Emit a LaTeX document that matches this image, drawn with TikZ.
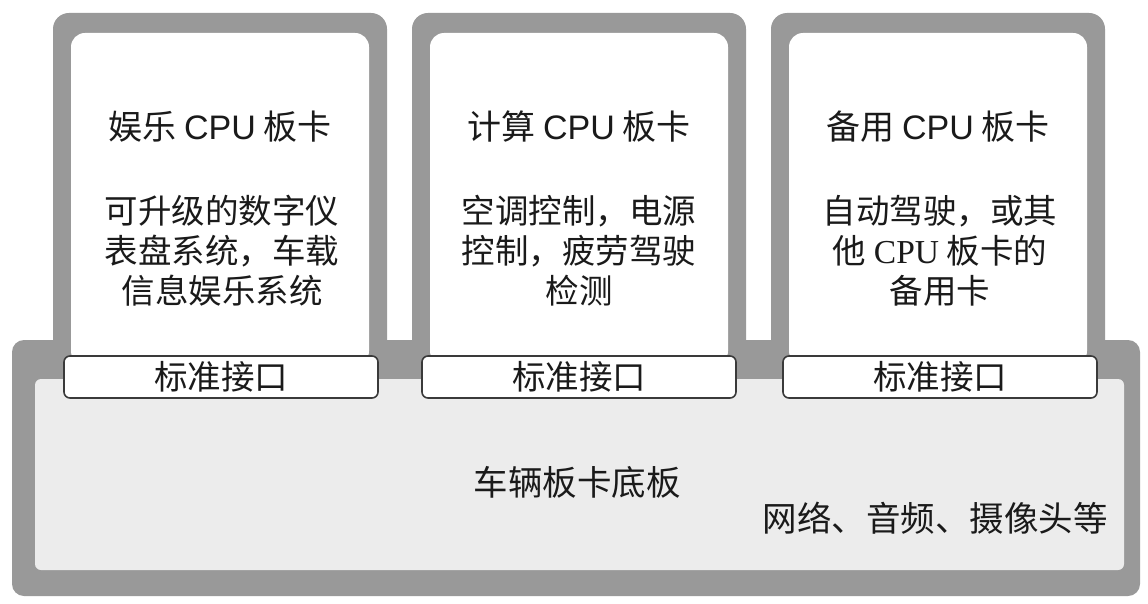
\documentclass[tikz,border=0pt]{standalone}
\usepackage{fontspec}
\setmainfont{Liberation Serif}
\newfontfamily\hei{Noto Sans CJK SC}
\newfontfamily\lsans{Liberation Sans}
\newfontfamily\lserif{Liberation Serif}
\definecolor{bordergray}{HTML}{999999}
\definecolor{baselight}{HTML}{ECECEC}
\definecolor{ink}{HTML}{1A1A1A}
\definecolor{ifline}{HTML}{3A3A3A}
\begin{document}
\begin{tikzpicture}[x=1pt,y=-1pt,
  baseouter/.style={fill=bordergray, draw=none, rounded corners=12pt, minimum width=1128pt, minimum height=256pt, inner sep=0pt},
  baseinner/.style={fill=baselight, draw=none, rounded corners=6pt, minimum width=1089pt, minimum height=191pt, inner sep=0pt},
  cardouter/.style={fill=bordergray, draw=none, rounded corners=16pt, minimum width=334pt, minimum height=372pt, inner sep=0pt},
  cardinner/.style={fill=white, draw=none, rounded corners=14pt, minimum width=298pt, minimum height=332pt, inner sep=0pt},
  ifbox/.style={fill=white, draw=ifline, line width=1.6pt, rounded corners=6pt, minimum width=314pt, minimum height=42pt, inner sep=0pt, font=\fontsize{33.5}{36}\selectfont\hei, text=ink},
  title/.style={font=\fontsize{34}{36}\selectfont\hei, text=ink, inner sep=0pt},
  body/.style={font=\fontsize{33.5}{40}\selectfont\hei, text=ink, align=center, inner sep=0pt},
  label/.style={font=\fontsize{34.5}{36}\selectfont\hei, text=ink, inner sep=0pt}]
\useasboundingbox (0,0) rectangle (1148,604);
\fill[white] (0,0) rectangle (1148,604);
\node[baseouter] (base) at (576,468) {};
% cards
\node[cardouter] (c1o) at (220,199) {};
\node[cardouter] (c2o) at (579,199) {};
\node[cardouter] (c3o) at (938,199) {};
\node[cardinner] (c1i) at (220,199) {};
\node[cardinner] (c2i) at (579,199) {};
\node[cardinner] (c3i) at (938,199) {};
\node[baseinner] (basein) at (579.5,474.5) {};
% interfaces
\node[ifbox] (if1) at (221,377) {标准接口};
\node[ifbox] (if2) at (579,377) {标准接口};
\node[ifbox] (if3) at (940,377) {标准接口};
% titles
\node[title] (t1) at (220,127) {娱乐 {\lsans CPU} 板卡};
\node[title] (t2) at (579,127) {计算 {\lsans CPU} 板卡};
\node[title] (t3) at (938,127) {备用 {\lsans CPU} 板卡};
% bodies
\node[body] (b1) at (222,251) {可升级的数字仪\\表盘系统，车载\\信息娱乐系统};
\node[body] (b2) at (579,251) {空调控制，电源\\控制，疲劳驾驶\\检测};
\node[body] (b3) at (940,251) {自动驾驶，或其\\他 {\lserif CPU} 板卡的\\备用卡};
% base labels
\node[label] (bl) at (577,482) {车辆板卡底板};
\node[label, anchor=east] (bn) at (1108,518) {网络、音频、摄像头等};
\end{tikzpicture}
\end{document}
